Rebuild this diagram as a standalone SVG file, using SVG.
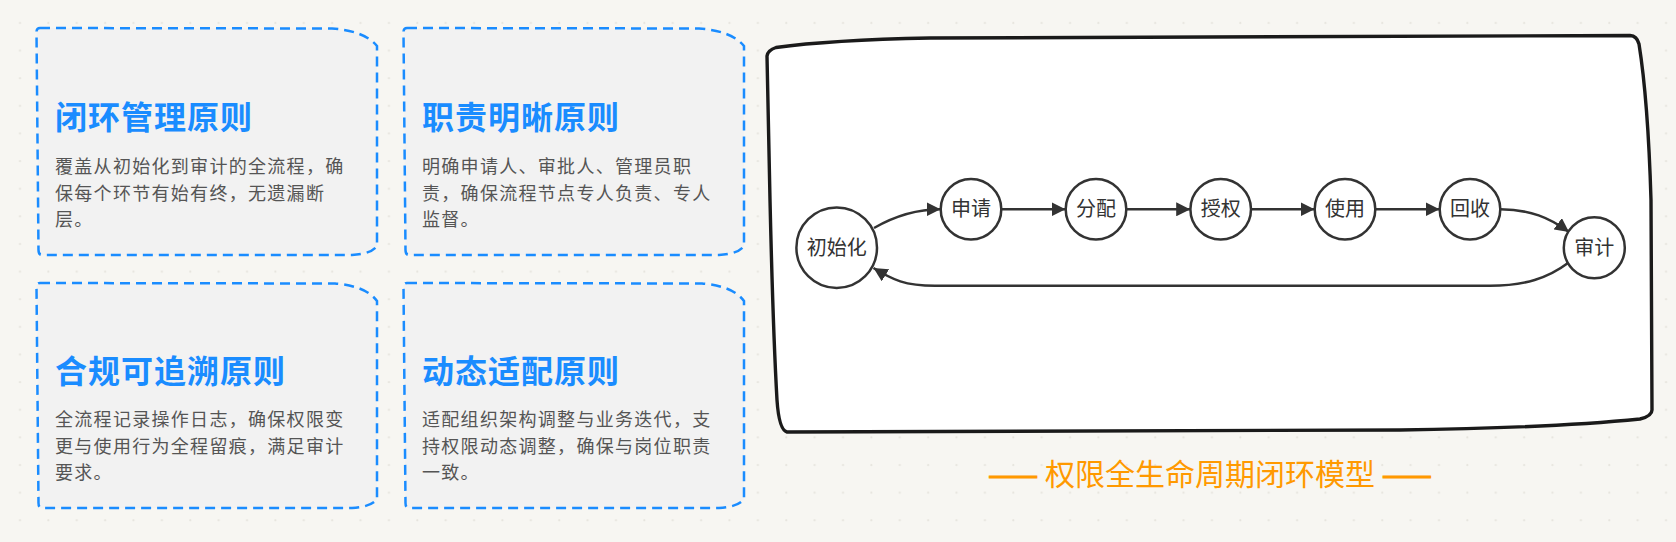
<svg xmlns="http://www.w3.org/2000/svg" width="1676" height="542" viewBox="0 0 1676 542">
  <defs>
    <pattern id="dots" x="6" y="9" width="28.38" height="27.63" patternUnits="userSpaceOnUse">
      <circle cx="14" cy="14" r="1.1" fill="#e6e4de"/>
    </pattern>
    <marker id="arrow" viewBox="0 0 14 14" markerWidth="14" markerHeight="14" refX="14" refY="7" orient="auto" markerUnits="userSpaceOnUse">
      <path d="M0,0 L14,7 L0,14 Z" fill="#333"/>
    </marker>
    <style>
      .card { fill: #f2f2f2; stroke: #1a8cff; stroke-width: 2.5; stroke-dasharray: 10 6; }
      .title { font-family: "Noto Sans CJK SC", "Noto Sans", sans-serif; font-size: 32px; font-weight: 700; fill: #1a8cff; letter-spacing: 1px; }
      .body { font-family: "Noto Sans CJK SC", "Noto Sans", sans-serif; font-size: 18px; fill: #555; letter-spacing: 1.3px; }
      .node circle { fill: #fff; stroke: #333; stroke-width: 2.5; }
      .node text { font-family: "Noto Sans CJK SC", "Noto Sans", sans-serif; font-size: 20px; fill: #333; text-anchor: middle; }
      .edge { fill: none; stroke: #333; stroke-width: 2.5; marker-end: url(#arrow); }
      .caption { font-family: "Noto Sans CJK SC", "Noto Sans", sans-serif; font-size: 30px; fill: #ff9900; text-anchor: middle; }
      .dash { stroke: #ff9900; stroke-width: 1; }
    </style>
  </defs>

  <rect width="1676" height="542" fill="#f7f6f2"/>
  <rect width="1676" height="542" fill="url(#dots)"/>

  <g id="card-closed-loop">
    <path class="card" d="M40,28 L332,28.5 Q365,31 377,46 L377,246 Q371,254 352,255 L42,255 Q38.5,255 38.5,250 L36.5,32 Q36.5,28 40,28 Z"/>
    <text class="title" x="55" y="129">闭环管理原则</text>
    <text class="body" x="55" y="173">覆盖从初始化到审计的全流程，确</text>
    <text class="body" x="55" y="200">保每个环节有始有终，无遗漏断</text>
    <text class="body" x="55" y="226">层。</text>
  </g>

  <g id="card-responsibility">
    <path class="card" transform="translate(367,0)" d="M40,28 L332,28.5 Q365,31 377,46 L377,246 Q371,254 352,255 L42,255 Q38.5,255 38.5,250 L36.5,32 Q36.5,28 40,28 Z"/>
    <text class="title" x="422" y="129">职责明晰原则</text>
    <text class="body" x="422" y="173">明确申请人、审批人、管理员职</text>
    <text class="body" x="422" y="200">责，确保流程节点专人负责、专人</text>
    <text class="body" x="422" y="226">监督。</text>
  </g>

  <g id="card-traceable">
    <path class="card" d="M40,283 L335,283.5 Q366,286 377,301 L377,499 Q371,507 352,508 L42,508 Q38.5,508 38.5,503 L36.5,287 Q36.5,283 40,283 Z"/>
    <text class="title" x="55" y="383">合规可追溯原则</text>
    <text class="body" x="55" y="426">全流程记录操作日志，确保权限变</text>
    <text class="body" x="55" y="453">更与使用行为全程留痕，满足审计</text>
    <text class="body" x="55" y="479">要求。</text>
  </g>

  <g id="card-dynamic">
    <path class="card" transform="translate(367,0)" d="M40,283 L335,283.5 Q366,286 377,301 L377,499 Q371,507 352,508 L42,508 Q38.5,508 38.5,503 L36.5,287 Q36.5,283 40,283 Z"/>
    <text class="title" x="422" y="383">动态适配原则</text>
    <text class="body" x="422" y="426">适配组织架构调整与业务迭代，支</text>
    <text class="body" x="422" y="453">持权限动态调整，确保与岗位职责</text>
    <text class="body" x="422" y="479">一致。</text>
  </g>

  <g id="lifecycle-panel">
    <path d="M767,56 Q768,50 776,47.5 Q830,40 930,38 L1630,35.5 Q1637,36 1639,44 Q1648,100 1651,200 L1652,410 Q1652,416 1640,419 Q1550,428 1400,430 L787,432 Q779,430 777,400 Q773,330 770,200 Z" fill="#fff" stroke="#1a1a1a" stroke-width="3.4" stroke-linejoin="round"/>
  </g>

  <g id="connectors">
    <path class="edge" d="M874,228 C895,216 915,209.3 940.5,209.3"/>
    <path class="edge" d="M1001.3,209.3 L1065.5,209.3"/>
    <path class="edge" d="M1126.3,209.3 L1190.2,209.3"/>
    <path class="edge" d="M1251,209.3 L1314.5,209.3"/>
    <path class="edge" d="M1375.3,209.3 L1439.5,209.3"/>
    <path class="edge" d="M1500.3,209.3 C1530,209.3 1550,218 1569,232"/>
    <path class="edge" d="M1568,263 C1548,278 1525,285.7 1490,285.7 L935,285.7 C905,285.7 893,280 873.5,268"/>
  </g>

  <g id="node-init" class="node">
    <circle cx="836.7" cy="247.7" r="40.3"/>
    <text x="836.7" y="254.7">初始化</text>
  </g>
  <g id="node-apply" class="node">
    <circle cx="971" cy="209.3" r="30.3"/>
    <text x="971" y="216.3">申请</text>
  </g>
  <g id="node-assign" class="node">
    <circle cx="1096" cy="209.3" r="30.3"/>
    <text x="1096" y="216.3">分配</text>
  </g>
  <g id="node-grant" class="node">
    <circle cx="1220.7" cy="209.3" r="30.3"/>
    <text x="1220.7" y="216.3">授权</text>
  </g>
  <g id="node-use" class="node">
    <circle cx="1345" cy="209.3" r="30.3"/>
    <text x="1345" y="216.3">使用</text>
  </g>
  <g id="node-revoke" class="node">
    <circle cx="1470" cy="209.3" r="30.3"/>
    <text x="1470" y="216.3">回收</text>
  </g>
  <g id="node-audit" class="node">
    <circle cx="1594.3" cy="247.7" r="30.5"/>
    <text x="1594.3" y="254.7">审计</text>
  </g>

  <g id="caption">
    <text class="caption" x="1210" y="485"><tspan class="dash">——</tspan> 权限全生命周期闭环模型 <tspan class="dash">——</tspan></text>
  </g>
</svg>
